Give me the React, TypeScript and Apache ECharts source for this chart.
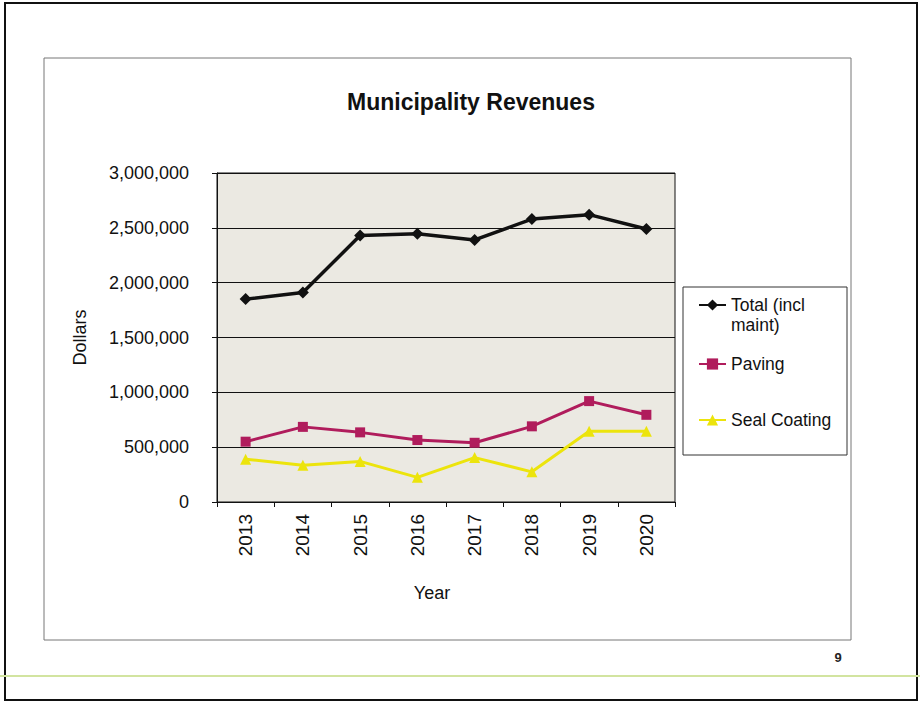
import React, { useEffect, useRef } from "react";
import * as echarts from "echarts";

const years = ["2013", "2014", "2015", "2016", "2017", "2018", "2019", "2020"];
const totalValues = [1850000, 1910000, 2430000, 2445000, 2390000, 2580000, 2620000, 2490000];
const pavingValues = [550000, 685000, 635000, 565000, 540000, 690000, 920000, 795000];
const sealValues = [390000, 335000, 370000, 225000, 405000, 275000, 645000, 645000];
const seriesNames = ["Total (incl maint)", "Paving", "Seal Coating"];
const yTicks = { min: 0, max: 3000000, interval: 500000 };

const FONT = "'Liberation Sans', Arial, Helvetica, sans-serif";

export default function App() {
  const ref = useRef<HTMLDivElement>(null);
  useEffect(() => {
    if (!ref.current) return;
    const chart = echarts.init(ref.current, null, { renderer: "svg" });
    const fmt = (v: number) => v.toLocaleString("en-US");
    chart.setOption({
      animation: false,
      backgroundColor: "#ffffff",
      title: {
        text: "Municipality Revenues",
        left: 347,
        top: 90,
        padding: 0,
        textStyle: { fontFamily: FONT, fontSize: 23, fontWeight: "bold", color: "#111" },
      },
      grid: {
        left: 217,
        top: 173,
        right: 245,
        bottom: 200,
        show: true,
        backgroundColor: "#ebe9e2",
        borderColor: "#111",
        borderWidth: 1,
      },
      legend: [
        {
          data: [seriesNames[0]],
          left: 698,
          top: 275,
          padding: 0,
          itemWidth: 27,
          itemHeight: 14,
          formatter: () => " \nTotal (incl\nmaint)",
          textStyle: { fontFamily: FONT, fontSize: 17.5, color: "#111", lineHeight: 20 },
        },
        {
          data: [seriesNames[1]],
          left: 698,
          top: 355,
          padding: 0,
          itemWidth: 27,
          itemHeight: 14,
          textStyle: { fontFamily: FONT, fontSize: 17.5, color: "#111" },
        },
        {
          data: [seriesNames[2]],
          left: 698,
          top: 411,
          padding: 0,
          itemWidth: 27,
          itemHeight: 14,
          textStyle: { fontFamily: FONT, fontSize: 17.5, color: "#111" },
        },
      ],
      xAxis: {
        type: "category",
        data: years,
        boundaryGap: true,
        name: "Year",
        nameLocation: "middle",
        nameGap: 82,
        nameTextStyle: { fontFamily: FONT, fontSize: 18, color: "#111", padding: [0, 28, 0, 0] },
        axisLine: { show: true, lineStyle: { color: "#111", width: 1 } },
        axisTick: { show: true, length: 5, alignWithLabel: false, lineStyle: { color: "#111" } },
        axisLabel: { rotate: 90, margin: 12, fontFamily: FONT, fontSize: 19, color: "#111" },
        splitLine: { show: false },
      },
      yAxis: {
        type: "value",
        min: yTicks.min,
        max: yTicks.max,
        interval: yTicks.interval,
        name: "Dollars",
        nameLocation: "middle",
        nameRotate: 90,
        nameGap: 128,
        nameTextStyle: { fontFamily: FONT, fontSize: 18, color: "#111" },
        axisLine: { show: true, lineStyle: { color: "#111", width: 1 } },
        axisTick: { show: true, length: 5, lineStyle: { color: "#111" } },
        axisLabel: { margin: 28, fontFamily: FONT, fontSize: 18, color: "#111", formatter: fmt },
        splitLine: { show: true, lineStyle: { color: "#111", width: 1 } },
      },
      graphic: [
        {
          type: "rect",
          silent: true,
          z: -10,
          shape: { x: 5, y: 3, width: 912, height: 697 },
          style: { fill: "none", stroke: "#111", lineWidth: 2 },
        },
        {
          type: "rect",
          silent: true,
          z: -10,
          shape: { x: 44, y: 58, width: 807, height: 582 },
          style: { fill: "none", stroke: "#777", lineWidth: 1 },
        },
        {
          type: "line",
          silent: true,
          shape: { x1: 0, y1: 676, x2: 920, y2: 676 },
          style: { stroke: "#d2e4a0", lineWidth: 2 },
        },
        {
          type: "text",
          silent: true,
          x: 838,
          y: 657,
          style: {
            text: "9",
            fontFamily: FONT,
            fontSize: 13,
            fontWeight: "bold",
            fill: "#222",
            align: "center",
            verticalAlign: "middle",
          },
        },
        {
          type: "rect",
          silent: true,
          z: -5,
          shape: { x: 683, y: 287, width: 164, height: 168 },
          style: { fill: "#ffffff", stroke: "#333", lineWidth: 1 },
        },
      ],
      series: [
        {
          name: seriesNames[0],
          type: "line",
          data: totalValues,
          color: "#111111",
          symbol: "diamond",
          symbolSize: 12,
          lineStyle: { width: 3.5, color: "#111111" },
          itemStyle: { color: "#111111" },
        },
        {
          name: seriesNames[1],
          type: "line",
          data: pavingValues,
          color: "#b01c5c",
          symbol: "rect",
          symbolSize: 10,
          lineStyle: { width: 3, color: "#b01c5c" },
          itemStyle: { color: "#b01c5c" },
        },
        {
          name: seriesNames[2],
          type: "line",
          data: sealValues,
          color: "#ece40c",
          symbol: "triangle",
          symbolSize: 11,
          lineStyle: { width: 3, color: "#ece40c" },
          itemStyle: { color: "#ece40c" },
        },
      ],
    });
    return () => chart.dispose();
  }, []);
  return (
    <div
      ref={ref}
      style={{ position: "fixed", left: 0, top: 0, width: 920, height: 702 }}
    />
  );
}
